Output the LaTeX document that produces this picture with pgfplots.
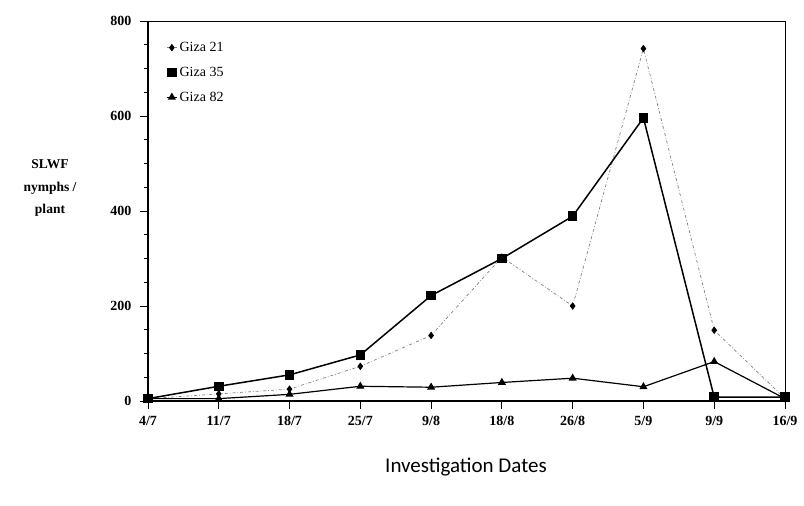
\documentclass[border=0pt]{standalone}
\usepackage{pgfplots}
\pgfplotsset{compat=1.18}
\usepackage{fontspec}
\setmainfont{Liberation Serif}
\newfontfamily\carlito{Carlito}
\begin{document}
\begin{tikzpicture}[x=1pt,y=1pt]
\path[use as bounding box] (-148,-105) rectangle (656,401);
\begin{axis}[
  at={(0,0)}, anchor=south west,
  scale only axis, width=637pt, height=380pt,
  xmin=0, xmax=9, ymin=0, ymax=800,
  xtick={0,...,9},
  xticklabels={4/7,11/7,18/7,25/7,9/8,18/8,26/8,5/9,9/9,16/9},
  ytick={0,200,400,600,800},
  yticklabels={0,200,400,600,800},
  minor y tick num=3,
  tick align=outside,
  xtick pos=bottom, ytick pos=left,
  major tick length=8pt, minor tick length=4pt,
  tick style={black, line width=0.9pt},
  axis line style={black, line width=0.7pt},
  xticklabel style={font=\fontsize{14}{16}\selectfont\bfseries, yshift=-4pt},
  yticklabel style={font=\fontsize{14}{16}\selectfont\bfseries, xshift=-5pt},
  clip=false,
  legend style={at={(0.025,0.955)}, anchor=north west, draw=none, fill=none,
    font=\fontsize{14}{16}\selectfont, row sep=10pt,
    legend cell align=left, inner sep=2pt},
  legend image code/.code={\draw[mark repeat=2,mark phase=2] plot coordinates {(0pt,0pt)(5pt,0pt)(10pt,0pt)};},
]
\draw[black, line width=1.2pt] (axis description cs:0,1) -- (axis description cs:0,0) -- (axis description cs:1,0);
\addplot[gray, line width=0.7pt, dash dot, mark=diamond*, mark size=3.2pt,
  mark options={solid, fill=black, draw=black}]
  coordinates {(0,5)(1,15)(2,25)(3,73)(4,138)(5,303)(6,200)(7,742)(8,149)(9,5)};
\addlegendentry{Giza 21}
\addplot[black, line width=1.5pt, mark=square*, mark size=4pt,
  mark options={solid, fill=black}]
  coordinates {(0,5)(1,31)(2,55)(3,97)(4,222)(5,300)(6,389)(7,596)(8,8)(9,8)};
\addlegendentry{Giza 35}
\addplot[black, line width=1.2pt, mark=triangle*, mark size=3.5pt,
  mark options={solid, fill=black}]
  coordinates {(0,5)(1,5)(2,14)(3,31)(4,29)(5,39)(6,48)(7,30)(8,83)(9,5)};
\addlegendentry{Giza 82}
\end{axis}
\node[align=center, font=\fontsize{13.5}{22.5}\selectfont\bfseries] at (-98,213) {SLWF\\nymphs /\\plant};
\node[font=\carlito\fontsize{21}{24}\selectfont] at (318,-66) {Investigation Dates};
\end{tikzpicture}
\end{document}
